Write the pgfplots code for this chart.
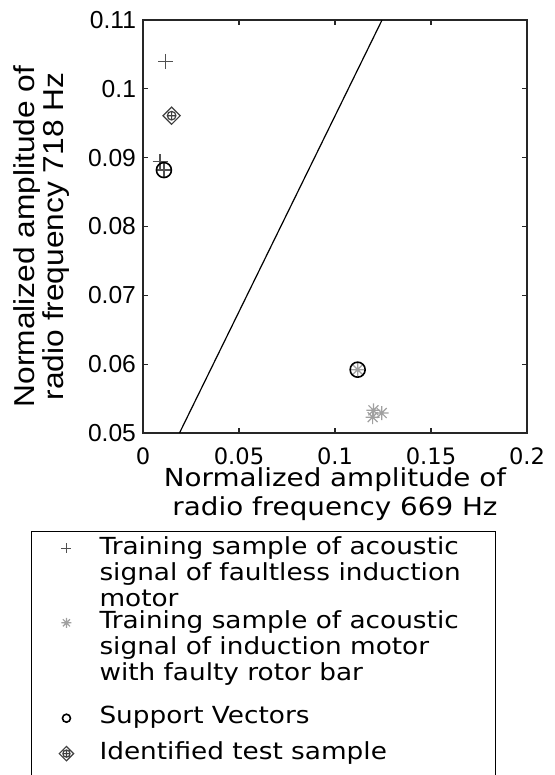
\documentclass[border=0pt]{standalone}
\usepackage{fontspec}
\usepackage{pgfplots}
\pgfplotsset{compat=1.18}
\setmainfont{DejaVu Sans}
\newfontfamily\vfont{DejaVu Sans}[FakeStretch=1.12]
\newfontfamily\vtick{DejaVu Sans}
\newfontfamily\afont{Liberation Sans}[FakeStretch=1.1]
\newfontfamily\atick{Liberation Sans}

% MATLAB style '*' marker (8 spokes)
\pgfdeclareplotmark{mstar}{%
  \pgfpathmoveto{\pgfqpoint{-\pgfplotmarksize}{0pt}}\pgfpathlineto{\pgfqpoint{\pgfplotmarksize}{0pt}}%
  \pgfpathmoveto{\pgfqpoint{0pt}{-\pgfplotmarksize}}\pgfpathlineto{\pgfqpoint{0pt}{\pgfplotmarksize}}%
  \pgfpathmoveto{\pgfqpoint{-.707\pgfplotmarksize}{-.707\pgfplotmarksize}}\pgfpathlineto{\pgfqpoint{.707\pgfplotmarksize}{.707\pgfplotmarksize}}%
  \pgfpathmoveto{\pgfqpoint{-.707\pgfplotmarksize}{.707\pgfplotmarksize}}\pgfpathlineto{\pgfqpoint{.707\pgfplotmarksize}{-.707\pgfplotmarksize}}%
  \pgfusepathqstroke}
% diamond with circled plus inside
\pgfdeclareplotmark{dplus}{%
  \pgfpathmoveto{\pgfqpoint{\pgfplotmarksize}{0pt}}%
  \pgfpathlineto{\pgfqpoint{0pt}{\pgfplotmarksize}}%
  \pgfpathlineto{\pgfqpoint{-\pgfplotmarksize}{0pt}}%
  \pgfpathlineto{\pgfqpoint{0pt}{-\pgfplotmarksize}}%
  \pgfpathclose
  \pgfpathcircle{\pgfpointorigin}{.5\pgfplotmarksize}%
  \pgfpathmoveto{\pgfqpoint{-.5\pgfplotmarksize}{0pt}}\pgfpathlineto{\pgfqpoint{.5\pgfplotmarksize}{0pt}}%
  \pgfpathmoveto{\pgfqpoint{0pt}{-.5\pgfplotmarksize}}\pgfpathlineto{\pgfqpoint{0pt}{.5\pgfplotmarksize}}%
  \pgfusepathqstroke}

\definecolor{plusgray}{HTML}{505050}
\definecolor{stargray}{HTML}{A0A0A0}
\definecolor{diagray}{HTML}{404040}

\pgfplotsset{
  legmark/.style={legend image code/.code={%
      \path[draw=none,fill=none] (0cm,0pt) -- (0.6cm,0pt);
      \draw[mark repeat=2,mark phase=2,##1] plot coordinates {(0cm,-6.5pt)(0.3cm,-6.5pt)(0.6cm,-6.5pt)};}},
}

\begin{document}
\begin{tikzpicture}
\begin{axis}[
    at={(0,0)}, anchor=south west,
    scale only axis, width=192pt, height=206.5pt,
    xmin=0, xmax=0.2, ymin=0.05, ymax=0.11,
    xtick={0,0.05,0.1,0.15,0.2},
    ytick={0.05,0.06,0.07,0.08,0.09,0.1,0.11},
    scaled ticks=false,
    /pgf/number format/assume math mode=true,
    /pgf/number format/fixed, /pgf/number format/precision=2,
    xticklabel style={font=\vtick\fontsize{11.3}{12}\selectfont, yshift=-4pt},
    yticklabel style={font=\atick\fontsize{12.3}{14}\selectfont},
    tick align=inside, major tick length=2.5pt,
    axis line style={line width=0.7pt, black!85},
    tick style={line width=0.6pt, black!85},
    xlabel={Normalized amplitude of\\[0.5pt]radio frequency 669 Hz},
    xlabel style={align=center, font=\vfont\fontsize{12.4}{14}\selectfont,
        at={(axis description cs:0.5,0)}, anchor=north, yshift=-14pt},
    ylabel={Normalized amplitude of\\radio frequency 718 Hz},
    ylabel style={align=center, font=\afont\fontsize{14.4}{13}\selectfont,
        at={(ticklabel cs:0.476,2.5pt)}},
    legend style={at={(-0.2917,-0.2373)}, anchor=north west, draw=black,
        inner xsep=9pt, inner ysep=2pt, row sep=-2pt, column sep=6pt,
        font=\vfont\fontsize{11.75}{13}\selectfont,
        nodes={inner xsep=2pt, inner ysep=0pt, text depth=},
        cells={anchor=north west, inner xsep=2pt, inner ysep=0pt}},
]
\addplot[black, line width=0.6pt, forget plot] coordinates {(0.019,0.05) (0.1245,0.11)};

\addplot[only marks, legmark, mark=+, mark size=3.75pt, plusgray, line width=0.6pt,
    legend image post style={mark size=2.5pt}]
    coordinates {(0.0118,0.1040) (0.0089,0.0894) (0.0109,0.0882)};
\addlegendentry{\begin{tabular}[t]{@{}l@{\hspace{6.5pt}}}Training sample of acoustic\\signal of faultless induction\\motor\end{tabular}}

\addplot[only marks, legmark, mark=mstar, mark size=3.5pt, stargray, line width=0.6pt,
    legend image post style={mark size=2.5pt}]
    coordinates {(0.1200,0.0533) (0.1243,0.0529) (0.1196,0.0523) (0.1118,0.0592)};
\addlegendentry{\begin{tabular}[t]{@{}l@{\hspace{6.5pt}}}Training sample of acoustic\\signal of induction motor\\with faulty rotor bar\\[10.5pt]\end{tabular}}

\addplot[only marks, legmark, mark=o, mark size=3.75pt, black, line width=0.8pt,
    legend image post style={mark size=2pt}]
    coordinates {(0.0109,0.0882) (0.1118,0.0592)};
\addlegendentry{\begin{tabular}[t]{@{}l@{}}Support Vectors\\[6.5pt]\end{tabular}}

\addplot[only marks, legmark, mark=dplus, mark size=4.3pt, diagray, line width=0.6pt,
    legend image post style={mark size=3.6pt}]
    coordinates {(0.0149,0.0961)};
\addlegendentry{\begin{tabular}[t]{@{}l@{}}Identified test sample\\[4pt]\end{tabular}}
\end{axis}
\pgfresetboundingbox
\path[use as bounding box] (-71.5pt,-171pt) rectangle (205.5pt,216.5pt);
\end{tikzpicture}
\end{document}
